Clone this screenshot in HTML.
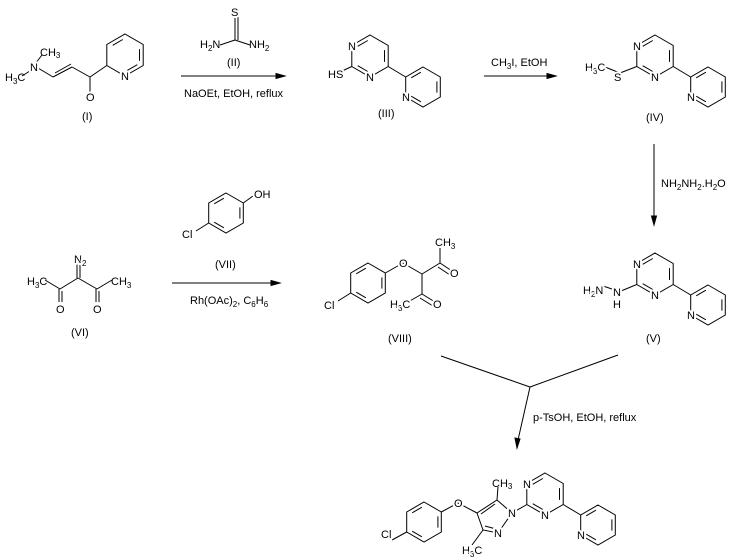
<!DOCTYPE html>
<html><head><style>
html,body{margin:0;padding:0;background:#fff;}
svg{display:block;font-family:"Liberation Sans",Arial,sans-serif;font-size:11px;}
line,polyline,polygon,path{stroke:#000;stroke-width:1;fill:none;}
path.ah{fill:#000;stroke:#000;}
text{fill:#000;}
.l{paint-order:stroke;stroke:#fff;stroke-width:4px;stroke-linejoin:round;}
</style></head><body>
<svg width="737" height="560" viewBox="0 0 737 560" xmlns="http://www.w3.org/2000/svg">
<defs>
<g id="pyr">
  <polygon points="0,-21 18.2,-10.5 18.2,10.5 0,21 -18.2,10.5 -18.2,-10.5"/>
  <line x1="-12.3" y1="-9.7" x2="-2.2" y2="-15.5"/>
  <line x1="-12.3" y1="9.7" x2="-2.2" y2="15.5"/>
  <line x1="14.5" y1="-5.9" x2="14.5" y2="5.9"/>
  <line x1="18.2" y1="10.5" x2="35.7" y2="21"/>
  <g transform="translate(53,31)">
    <polygon points="0,-20 17.3,-10 17.3,10 0,20 -17.3,10 -17.3,-10"/>
    <line x1="-11.8" y1="-9.2" x2="-2.1" y2="-14.8"/>
    <line x1="13.9" y1="-5.6" x2="13.9" y2="5.6"/>
    <line x1="-2.1" y1="14.8" x2="-11.8" y2="9.2"/>
    <text class="l" x="-21" y="14">N</text>
  </g>
  <text class="l" x="-22" y="-6">N</text>
  <text class="l" x="-4" y="25">N</text>
</g>
<g id="ring">
  <polygon points="0,-20 17.3,-10 17.3,10 0,20 -17.3,10 -17.3,-10"/>
  <line x1="-11.8" y1="-9.2" x2="-2.1" y2="-14.8"/>
  <line x1="13.9" y1="-5.6" x2="13.9" y2="5.6"/>
  <line x1="-2.1" y1="14.8" x2="-11.8" y2="9.2"/>
</g>
</defs>

<!-- Compound I -->
<line x1="42" y1="55" x2="35" y2="64"/>
<line x1="22" y1="76" x2="33" y2="69"/>
<line x1="38" y1="68" x2="53" y2="77"/>
<line x1="53" y1="77" x2="72" y2="67"/>
<line x1="55" y1="73" x2="71" y2="64"/>
<line x1="72" y1="67" x2="90" y2="77"/>
<line x1="90" y1="77" x2="90" y2="92"/>
<line x1="90" y1="77" x2="106.8" y2="65.5"/>
<g transform="translate(125,55)">
  <polygon points="0,-21 18.2,-10.5 18.2,10.5 0,21 -18.2,10.5 -18.2,-10.5"/>
  <line x1="-12.3" y1="-9.7" x2="-2.2" y2="-15.5"/>
  <line x1="14.5" y1="-5.9" x2="14.5" y2="5.9"/>
  <line x1="12.3" y1="9.7" x2="2.2" y2="15.5"/>
  <text class="l" x="-4" y="25">N</text>
</g>
<text class="l" x="30" y="71">N</text>
<text x="40" y="56">CH<tspan font-size="8" dy="2">3</tspan></text>
<text x="5" y="81">H<tspan font-size="8" dy="3">3</tspan><tspan dy="-3">C</tspan></text>
<text class="l" x="86" y="101">O</text>
<text x="82" y="120">(I)</text>

<!-- Thiourea II -->
<line x1="235" y1="17" x2="235" y2="40"/>
<line x1="238" y1="17" x2="238" y2="40"/>
<line x1="220" y1="45" x2="235" y2="40"/>
<line x1="235" y1="40" x2="250" y2="45"/>
<text class="l" x="231" y="16">S</text>
<text x="200" y="48">H<tspan font-size="8" dy="3">2</tspan><tspan dy="-3">N</tspan></text>
<text x="249" y="48">NH<tspan font-size="8" dy="3">2</tspan></text>
<text x="227" y="66">(II)</text>
<line x1="181" y1="76" x2="282" y2="76"/>
<path class="ah" d="M276,73.5 L285,76 L276,78.5 Z"/>
<text x="184" y="97">NaOEt, EtOH, reflux</text>

<!-- III -->
<g transform="translate(370,56)">
  <line x1="-18.2" y1="10.5" x2="-30" y2="16"/>
  <use href="#pyr"/>
  <text class="l" x="-42" y="22">HS</text>
</g>
<text x="378" y="117">(III)</text>
<line x1="484" y1="76" x2="552" y2="76"/>
<path class="ah" d="M547,73.5 L556,76 L547,78.5 Z"/>
<text x="491" y="66">CH<tspan font-size="8" dy="3">3</tspan><tspan dy="-3">I, EtOH</tspan></text>

<!-- IV -->
<g transform="translate(655,56)">
  <line x1="-18.2" y1="10.5" x2="-35" y2="17"/>
  <line x1="-35" y1="17" x2="-50" y2="11"/>
  <use href="#pyr"/>
  <text class="l" x="-41" y="25">S</text>
  <text class="l" x="-70" y="15">H<tspan font-size="8" dy="3">3</tspan><tspan dy="-3">C</tspan></text>
</g>
<text x="646" y="121">(IV)</text>

<!-- down arrow -->
<line x1="654" y1="144" x2="654" y2="220"/>
<path class="ah" d="M651.5,216 L654,225 L656.5,216 Z"/>
<text x="661" y="187">NH<tspan font-size="8" dy="3">2</tspan><tspan dy="-3">NH</tspan><tspan font-size="8" dy="3">2</tspan><tspan dy="-3">.H</tspan><tspan font-size="8" dy="3">2</tspan><tspan dy="-3">O</tspan></text>

<!-- V -->
<g transform="translate(655,274)">
  <line x1="-18.2" y1="10.5" x2="-34" y2="17"/>
  <line x1="-40" y1="16" x2="-52" y2="12"/>
  <use href="#pyr"/>
  <text class="l" x="-42" y="22">N</text>
  <text x="-42" y="34">H</text>
  <text class="l" x="-72" y="20">H<tspan font-size="8" dy="3">2</tspan><tspan dy="-3">N</tspan></text>
</g>
<text x="646" y="342">(V)</text>

<!-- VI -->
<line x1="77" y1="264" x2="77" y2="278"/>
<line x1="80" y1="264" x2="80" y2="278"/>
<line x1="78" y1="278" x2="60" y2="289"/>
<line x1="78" y1="278" x2="97" y2="289"/>
<line x1="60" y1="289" x2="45" y2="280"/>
<line x1="97" y1="289" x2="112" y2="280"/>
<line x1="59" y1="289" x2="59" y2="302"/>
<line x1="62" y1="291" x2="62" y2="302"/>
<line x1="96" y1="289" x2="96" y2="302"/>
<line x1="99" y1="291" x2="99" y2="302"/>
<text class="l" x="74" y="263">N<tspan font-size="8" dy="3">2</tspan></text>
<text x="27" y="285">H<tspan font-size="8" dy="3">3</tspan><tspan dy="-3">C</tspan></text>
<text x="111" y="285">CH<tspan font-size="8" dy="3">3</tspan></text>
<text x="56" y="313">O</text>
<text x="93" y="313">O</text>
<text x="71" y="336">(VI)</text>

<!-- VII -->
<g transform="translate(226,213)">
  <line x1="17.3" y1="-10" x2="27" y2="-17"/>
  <line x1="-17.3" y1="10" x2="-30" y2="18"/>
  <use href="#ring"/>
  <text class="l" x="28" y="-15">OH</text>
  <text class="l" x="-44" y="25">Cl</text>
</g>
<text x="215" y="268">(VII)</text>
<line x1="172" y1="283" x2="276" y2="283"/>
<path class="ah" d="M271,280.5 L280,283 L271,285.5 Z"/>
<text x="190" y="304">Rh(OAc)<tspan font-size="8" dy="3">2</tspan><tspan dy="-3">, C</tspan><tspan font-size="8" dy="3">6</tspan><tspan dy="-3">H</tspan><tspan font-size="8" dy="3">6</tspan></text>

<!-- VIII -->
<g transform="translate(368,283)">
  <line x1="-17.3" y1="10" x2="-30" y2="18"/>
  <use href="#ring"/>
  <text class="l" x="-44" y="26">Cl</text>
</g>
<line x1="385.3" y1="273" x2="403" y2="263"/>
<line x1="403" y1="263" x2="422" y2="274"/>
<line x1="422" y1="274" x2="440" y2="263"/>
<line x1="440" y1="263" x2="440" y2="248"/>
<line x1="440" y1="263" x2="452" y2="271"/>
<line x1="438" y1="267" x2="450" y2="275"/>
<line x1="422" y1="274" x2="422" y2="294"/>
<line x1="422" y1="294" x2="408" y2="302"/>
<line x1="422" y1="294" x2="435" y2="302"/>
<line x1="420" y1="298" x2="433" y2="306"/>
<text class="l" x="399" y="267">O</text>
<text x="435" y="246">CH<tspan font-size="8" dy="3">3</tspan></text>
<text class="l" x="450" y="277">O</text>
<text class="l" x="390" y="308">H<tspan font-size="8" dy="3">3</tspan><tspan dy="-3">C</tspan></text>
<text class="l" x="433" y="308">O</text>
<text x="388" y="342">(VIII)</text>

<!-- convergent arrow -->
<line x1="441" y1="356" x2="530" y2="387"/>
<line x1="618" y1="355" x2="530" y2="387"/>
<line x1="530" y1="387" x2="518" y2="440"/>
<path class="ah" d="M515,438 L517,448 L520,439 Z"/>
<text x="533" y="421">p-TsOH, EtOH, reflux</text>

<!-- final product -->
<g transform="translate(424,522)">
  <line x1="-17.3" y1="10" x2="-32" y2="18"/>
  <use href="#ring"/>
  <text class="l" x="-43" y="16">Cl</text>
</g>
<line x1="441.3" y1="512" x2="458" y2="503"/>
<line x1="458" y1="503" x2="477" y2="513"/>
<polygon points="477,513 497,500 512,513 498,533 483,530"/>
<line x1="481" y1="514" x2="495" y2="504"/>
<line x1="485" y1="526" x2="496" y2="529"/>
<line x1="497" y1="500" x2="498" y2="487"/>
<line x1="483" y1="530" x2="472" y2="545"/>
<line x1="512" y1="513" x2="527" y2="504.5"/>
<use href="#pyr" transform="translate(545,494)"/>
<text class="l" x="454" y="507">O</text>
<text x="492" y="487">CH<tspan font-size="8" dy="2">3</tspan></text>
<text class="l" x="508" y="517">N</text>
<text class="l" x="494" y="537">N</text>
<text class="l" x="462" y="554">H<tspan font-size="8" dy="3">3</tspan><tspan dy="-3">C</tspan></text>
</svg>
</body></html>
